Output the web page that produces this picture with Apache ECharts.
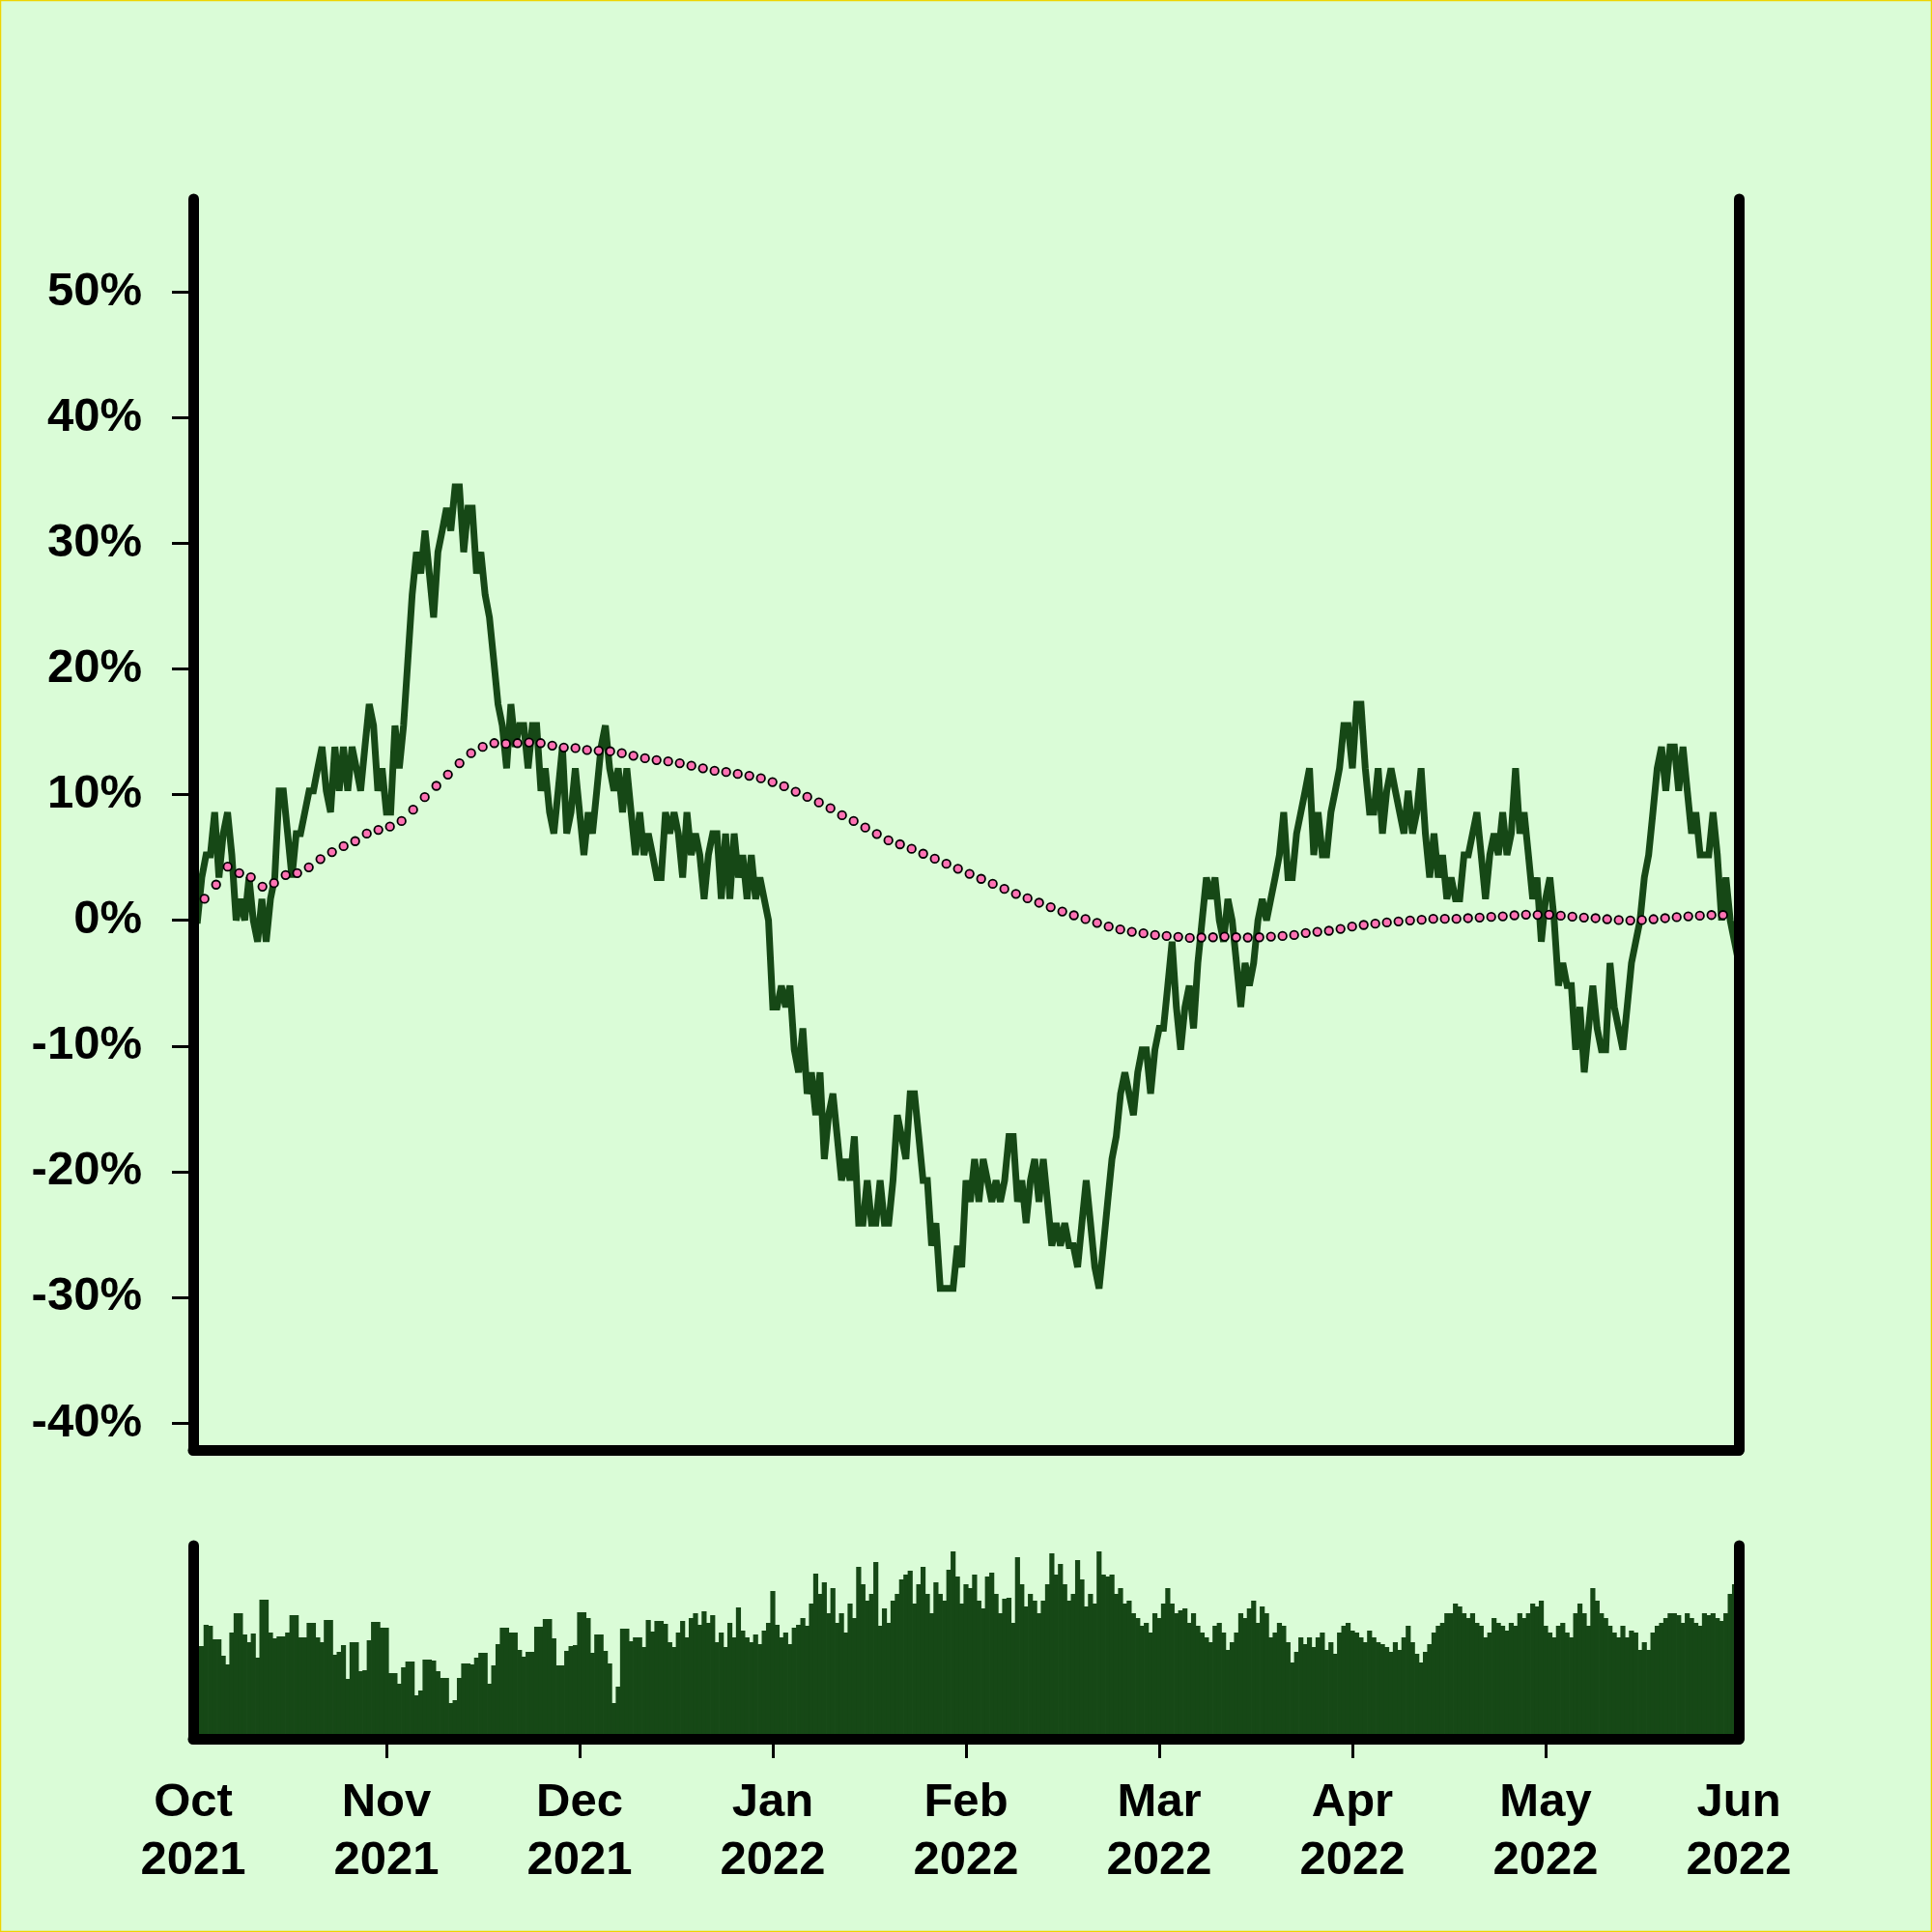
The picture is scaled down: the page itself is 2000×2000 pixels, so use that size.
<!DOCTYPE html>
<html><head><meta charset="utf-8">
<script src="https://cdn.jsdelivr.net/npm/echarts@6/dist/echarts.min.js"></script>
<style>html,body{margin:0;padding:0;background:#dafcd7}#c{width:2000px;height:2000px}</style>
</head><body><div id="c"></div>
<script>
// ---- data ----
const monthLabels = ['Oct\n2021','Nov\n2021','Dec\n2021','Jan\n2022','Feb\n2022','Mar\n2022','Apr\n2022','May\n2022','Jun\n2022'];
const yTickValues = [-40,-30,-20,-10,0,10,20,30,40,50];
const pointsPerMonth = 45;

// cumulative change (%) per observation
const priceChange = [
0,0,3.4,5.2,5.2,8.6,3.4,6.9,8.6,5.2,
0,1.7,0,3.4,0,-1.7,1.7,-1.7,1.7,3.4,
10.3,10.3,6.9,3.4,6.9,6.9,8.6,10.3,10.3,12.1,
13.8,10.3,8.6,13.8,10.3,13.8,10.3,13.8,12.1,10.3,
13.8,17.2,15.5,10.3,12.1,8.6,8.6,15.5,12.1,15.5,
20.7,25.9,29.3,27.6,31.0,27.6,24.1,29.3,31.0,32.8,
31.0,34.5,34.5,29.3,32.8,32.8,27.6,29.3,25.9,24.1,
20.7,17.2,15.5,12.1,17.2,13.8,15.5,15.5,12.1,15.5,
15.5,10.3,12.1,8.6,6.9,10.3,13.8,6.9,8.6,12.1,
8.6,5.2,8.6,6.9,10.3,13.8,15.5,12.1,10.3,12.1,
8.6,12.1,8.6,5.2,8.6,5.2,6.9,5.2,3.4,3.4,
8.6,6.9,8.6,6.9,3.4,8.6,5.2,6.9,5.2,1.7,
5.2,6.9,6.9,1.7,6.9,1.7,6.9,3.4,5.2,1.7,
5.2,1.7,3.4,1.7,0,-6.9,-6.9,-5.2,-6.9,-5.2,
-10.3,-12.1,-8.6,-13.8,-12.1,-15.5,-12.1,-19.0,-15.5,-13.8,
-17.2,-20.7,-19.0,-20.7,-17.2,-24.1,-24.1,-20.7,-24.1,-24.1,
-20.7,-24.1,-24.1,-20.7,-15.5,-17.2,-19.0,-13.8,-13.8,-17.2,
-20.7,-20.7,-25.9,-24.1,-29.3,-29.3,-29.3,-29.3,-25.9,-27.6,
-20.7,-22.4,-19.0,-22.4,-19.0,-20.7,-22.4,-20.7,-22.4,-20.7,
-17.2,-17.2,-22.4,-20.7,-24.1,-20.7,-19.0,-22.4,-19.0,-22.4,
-25.9,-24.1,-25.9,-24.1,-25.9,-25.9,-27.6,-24.1,-20.7,-24.1,
-27.6,-29.3,-25.9,-22.4,-19.0,-17.2,-13.8,-12.1,-13.8,-15.5,
-12.1,-10.3,-10.3,-13.8,-10.3,-8.6,-8.6,-5.2,-1.7,-6.9,
-10.3,-6.9,-5.2,-8.6,-3.4,0,3.4,1.7,3.4,0,
-1.7,1.7,0,-3.4,-6.9,-3.4,-5.2,-3.4,0,1.7,
0,1.7,3.4,5.2,8.6,3.4,3.4,6.9,8.6,10.3,
12.1,5.2,8.6,5.2,5.2,8.6,10.3,12.1,15.5,15.5,
12.1,17.2,17.2,12.1,8.6,8.6,12.1,6.9,10.3,12.1,
10.3,8.6,6.9,10.3,6.9,8.6,12.1,6.9,3.4,6.9,
3.4,5.2,1.7,3.4,1.7,1.7,5.2,5.2,6.9,8.6,
5.2,1.7,5.2,6.9,5.2,8.6,5.2,6.9,12.1,6.9,
8.6,5.2,1.7,3.4,-1.7,1.7,3.4,0,-5.2,-3.4,
-5.2,-5.2,-10.3,-6.9,-12.1,-8.6,-5.2,-8.6,-10.3,-10.3,
-3.4,-6.9,-8.6,-10.3,-6.9,-3.4,-1.7,0,3.4,5.2,
8.6,12.1,13.8,10.3,13.8,13.8,10.3,13.8,10.3,6.9,
8.6,5.2,5.2,5.2,8.6,5.2,0,3.4,0,-1.7,
-3.4
];

// smoothed trend (%) sampled along the period
const smoothTrend = [
1.71,2.84,4.27,3.76,3.43,2.68,2.96,3.6,3.76,4.22,4.87,5.43,5.9,6.3,6.9,7.2,7.46,7.9,8.8,9.8,
10.7,11.6,12.5,13.3,13.8,14.1,14.05,14.1,14.15,14.1,13.9,13.75,13.7,13.55,13.5,13.45,13.3,13.1,12.9,12.75,
12.65,12.5,12.3,12.1,11.9,11.8,11.65,11.5,11.3,11.0,10.67,10.23,9.82,9.38,8.92,8.36,7.9,7.38,6.87,6.36,
6.05,5.69,5.3,4.9,4.5,4.1,3.7,3.3,2.9,2.5,2.1,1.75,1.4,1.05,0.7,0.4,0.1,-0.2,-0.5,-0.73,
-0.91,-1.04,-1.17,-1.25,-1.32,-1.4,-1.37,-1.35,-1.3,-1.35,-1.37,-1.35,-1.3,-1.25,-1.17,-1.01,-0.91,-0.83,-0.68,-0.5,
-0.37,-0.27,-0.17,-0.09,-0.01,0.04,0.12,0.12,0.12,0.17,0.22,0.27,0.32,0.4,0.45,0.43,0.45,0.37,0.29,0.22,
0.17,0.09,0.02,-0.01,0.02,0.09,0.17,0.25,0.32,0.37,0.42,0.42
];

// volume per observation (relative units)
const volume = [
96,96,96,118,117,103,103,86,77,110,
130,130,108,100,109,84,144,144,110,104,
106,106,110,128,128,105,105,120,120,105,
100,123,123,87,90,97,62,100,100,70,
71,102,121,121,115,115,68,68,57,74,
80,80,45,50,82,82,81,70,63,63,
37,40,63,78,78,77,84,89,89,57,
76,98,115,115,110,110,92,85,90,90,
116,116,124,124,104,76,76,91,96,97,
131,131,125,89,108,108,91,78,37,54,
114,114,101,105,105,95,123,111,122,122,
119,100,95,110,122,105,125,130,118,132,
120,128,100,110,95,120,105,136,112,105,
100,108,98,112,120,153,118,105,110,98,
115,118,125,117,140,171,150,162,130,156,
120,130,110,140,125,178,160,143,150,183,
117,135,120,143,150,165,170,174,140,160,
178,150,130,162,150,143,175,194,168,140,
160,156,170,143,135,168,172,150,130,145,
146,120,188,160,137,150,143,130,143,160,
192,170,181,160,143,150,185,165,137,150,
140,194,170,168,170,150,156,140,143,130,
125,117,120,110,130,125,140,156,140,130,
133,135,120,130,117,110,105,100,117,120,
110,92,100,110,130,125,135,143,120,137,
130,105,110,120,117,100,79,90,105,98,
105,95,105,110,92,100,88,110,117,120,
112,110,105,100,112,105,100,98,95,90,
100,92,105,117,100,88,79,90,98,110,
117,120,130,130,140,137,130,125,130,120,
117,105,110,125,120,117,112,120,117,130,
125,130,140,137,143,117,110,105,117,120,
110,105,130,140,130,117,156,143,130,125,
117,110,105,117,105,112,110,92,100,92,
110,117,120,125,130,130,128,120,130,125,
120,117,130,128,130,125,122,130,150,160,
140
];

// ---- chart ----
const smoothStart = 2.63, smoothStep = 2.7; // sampling of the trend in observation units
const lastIndex = pointsPerMonth * (monthLabels.length - 1);
const monthTickValues = monthLabels.map((_, m) => m * pointsPerMonth);
const innerTickValues = monthTickValues.slice(1, -1);
const FONT = '"Liberation Sans", Arial, Helvetica, sans-serif';
const INK = '#000000';
const GREEN = '#164816';
const axisLine = {show:true, onZero:false, lineStyle:{color:INK, width:11, cap:'round'}};
const labelFont = {fontFamily:FONT, fontWeight:'bold', fontSize:49, color:INK};

const chart = echarts.init(document.getElementById('c'), null, {renderer:'canvas', width:2000, height:2000, devicePixelRatio:1});
chart.setOption({
  backgroundColor:'#dafcd7',
  animation:false,
  graphic:[{type:'rect', silent:true, shape:{x:0.5,y:0.5,width:1999,height:1999}, style:{fill:null, stroke:'#eed400', lineWidth:1.5}}],
  grid:[
    {left:200, top:206, width:1600, height:1295},
    {left:200, top:1600, width:1600, height:200}
  ],
  xAxis:[
    {gridIndex:0, type:'value', min:0, max:lastIndex, interval:pointsPerMonth, z:5,
     axisLine:axisLine, axisTick:{show:false}, axisLabel:{show:false}, splitLine:{show:false}},
    {gridIndex:1, type:'value', min:0, max:lastIndex, interval:pointsPerMonth, z:5,
     axisLine:axisLine,
     axisTick:{show:true, length:20, customValues:innerTickValues, lineStyle:{color:INK, width:3}},
     axisLabel:Object.assign({margin:36, lineHeight:60, customValues:monthTickValues,
       formatter:v => monthLabels[Math.round(v / pointsPerMonth)]}, labelFont),
     splitLine:{show:false}}
  ],
  yAxis:[
    {gridIndex:0, type:'value', min:-42.15, max:57.4, position:'left', z:5,
     axisLine:axisLine,
     axisTick:{show:true, length:22, customValues:yTickValues, lineStyle:{color:INK, width:3}},
     axisLabel:Object.assign({margin:53, customValues:yTickValues, formatter:v => v + '%'}, labelFont),
     splitLine:{show:false}},
    {gridIndex:0, type:'value', min:-42.15, max:57.4, position:'right', z:5,
     axisLine:axisLine, axisTick:{show:false}, axisLabel:{show:false}, splitLine:{show:false}},
    {gridIndex:1, type:'value', min:0, max:200, position:'left', z:5,
     axisLine:axisLine, axisTick:{show:false}, axisLabel:{show:false}, splitLine:{show:false}},
    {gridIndex:1, type:'value', min:0, max:200, position:'right', z:5,
     axisLine:axisLine, axisTick:{show:false}, axisLabel:{show:false}, splitLine:{show:false}}
  ],
  series:[
    {type:'bar', xAxisIndex:1, yAxisIndex:2, silent:true, barWidth:5.2,
     data:volume.map((v,i) => [i, v]), itemStyle:{color:GREEN}},
    {type:'line', xAxisIndex:0, yAxisIndex:0, silent:true, showSymbol:false, z:3,
     data:priceChange.map((v,i) => [i, v]), lineStyle:{color:GREEN, width:7, join:'miter', miterLimit:3}},
    {type:'scatter', xAxisIndex:0, yAxisIndex:0, silent:true, z:4, symbol:'circle', symbolSize:8.5,
     data:smoothTrend.map((v,j) => [smoothStart + j * smoothStep, v]),
     itemStyle:{color:'#ff72b4', borderColor:'#000000', borderWidth:1.8, opacity:1}}
  ]
});
</script>
</body></html>
